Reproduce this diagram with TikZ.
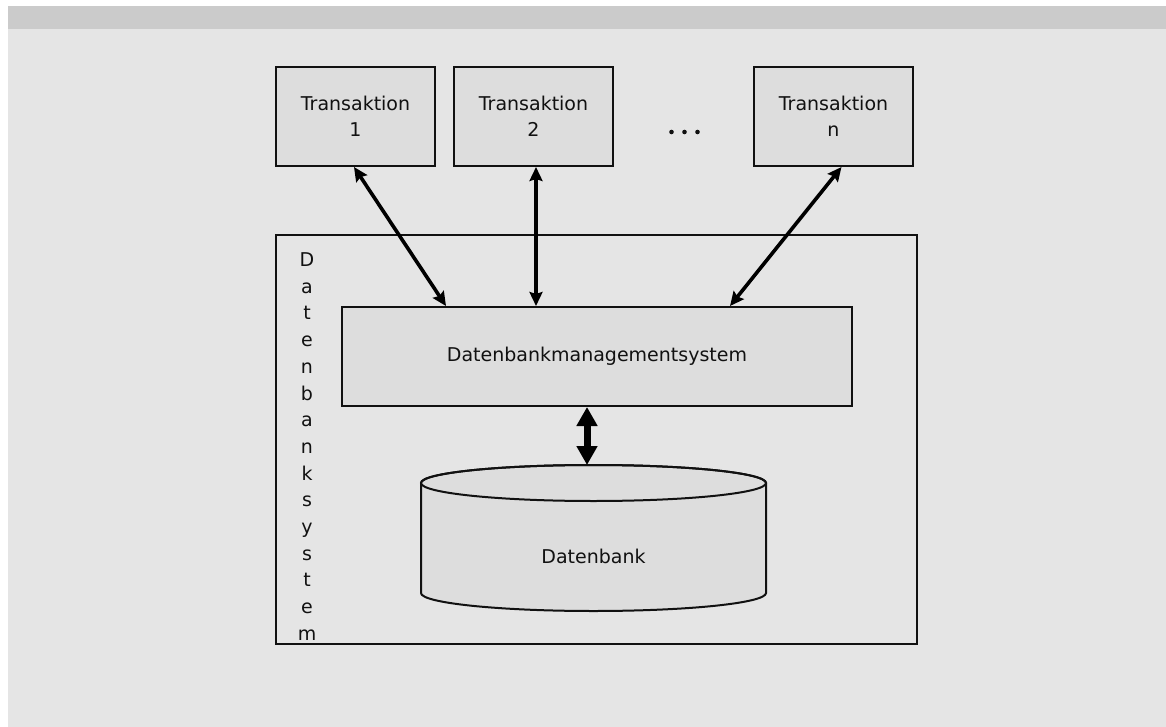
\documentclass[tikz,border=0pt]{standalone}
\usepackage{fontspec}
\setmainfont{DejaVu Sans}
\usetikzlibrary{arrows.meta,calc}
\definecolor{bggray}{HTML}{E5E5E5}
\definecolor{bandgray}{HTML}{CBCBCB}
\definecolor{boxgray}{HTML}{DDDDDD}
\definecolor{ink}{HTML}{111111}
\begin{document}
\begin{tikzpicture}[x=1pt,y=-1pt,
  lbl/.style={font=\fontsize{19}{26}\selectfont, text=ink},
  tbox/.style={draw=ink, line width=2pt, fill=boxgray, minimum width=159pt, minimum height=99pt, align=center, lbl, inner sep=0pt},
  frame/.style={draw=ink, line width=2pt, minimum width=641pt, minimum height=409pt, inner sep=0pt},
  dbmsbox/.style={draw=ink, line width=2pt, fill=boxgray, minimum width=510pt, minimum height=99pt, inner sep=0pt, lbl},
  link/.style={draw=black, line width=3.6pt, {Stealth[length=14pt,width=13pt,inset=2pt]}-{Stealth[length=14pt,width=13pt,inset=2pt]}},
  biglink/.style={draw=black, line width=7pt, {Triangle[length=19pt,width=20pt]}-{Triangle[length=19pt,width=20pt]}},
  dot/.style={fill=ink}
]
\useasboundingbox (0,0) rectangle (1166,727);
\fill[white] (0,0) rectangle (1166,727);
\fill[bggray] (8,6) rectangle (1166,727);
\fill[bandgray] (8,6) rectangle (1166,29);

% outer frame
\node[frame] (dbs) at (596.5,439.5) {};
\node[anchor=north, inner sep=0pt, align=center, font=\fontsize{19}{26.7}\selectfont, text=ink] (lab) at (307,252.5)
  {D\\a\\t\\e\\n\\b\\a\\n\\k\\s\\y\\s\\t\\e\\m};

% transactions
\node[tbox] (t1) at (355.5,116.5) {Transaktion\\1};
\node[tbox] (t2) at (533.5,116.5) {Transaktion\\2};
\node[tbox] (tn) at (833.5,116.5) {Transaktion\\n};
\fill[dot] (671.5,132) circle[radius=2.3];
\fill[dot] (684.5,132) circle[radius=2.3];
\fill[dot] (697.5,132) circle[radius=2.3];

% DBMS
\node[dbmsbox] (dbms) at (597,356.5) {Datenbankmanagementsystem};

% cylinder
\path[draw=ink, line width=2pt, fill=boxgray]
  (421,483) -- (421,593) arc[start angle=180, end angle=0, x radius=172.5, y radius=18]
  -- (766,483) arc[start angle=0, end angle=-180, x radius=172.5, y radius=18] -- cycle;
\draw[ink, line width=2pt] (593.5,483) ellipse[x radius=172.5, y radius=18];
\node[lbl] (db) at (593.5,556) {Datenbank};
\coordinate (dbtop) at (587,465);

% connectors
\coordinate (e1) at (446,306);
\coordinate (e2) at (536,306);
\coordinate (e3) at (730,306);
\draw[link] ($(t1.south)+(-1.5,0)$) -- (e1);
\draw[link] (t2.south -| e2) -- (e2);
\draw[link] ($(tn.south)+(8,0)$) -- (e3);
\draw[biglink] (dbms.south -| dbtop) -- (dbtop);
\end{tikzpicture}
\end{document}
